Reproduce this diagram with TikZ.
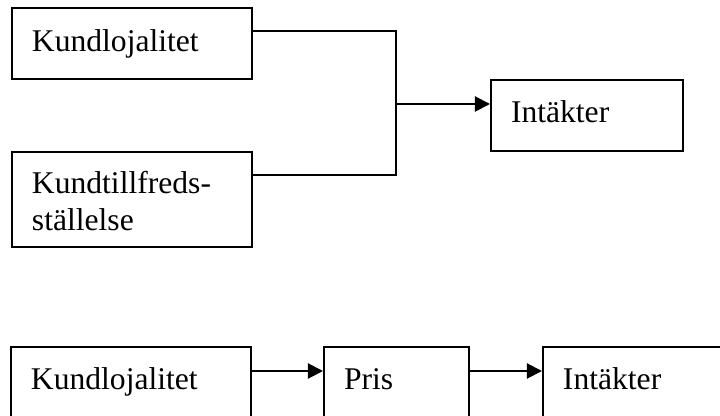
\documentclass[tikz,border=0pt]{standalone}
\usepackage{fontspec}
\setmainfont{Liberation Serif}
\usetikzlibrary{arrows.meta, positioning}

\tikzset{
  box/.style={draw, line width=1pt, align=left, inner xsep=10pt, inner ysep=0pt,
    minimum height=35.5pt, execute at begin node=\strut,
    font=\fontsize{15.8}{18.3}\selectfont},
  link/.style={line width=1pt},
  arr/.style={link, -{Triangle[length=7.5pt, width=7.5pt]}},
}

\begin{document}
\begin{tikzpicture}[x=0.5pt, y=-0.5pt, node distance=35.5pt]
  \useasboundingbox (0,0) rectangle (720,416);
  \clip (0,0) rectangle (720,416);

  % upper diagram
  \node[box, text width=100pt] (lojal) at (132,44) {Kundlojalitet};
  \node[box, text width=100pt, minimum height=47.5pt] (tillfr) at (132,199.5) {Kundtillfreds-\\ställelse};
  \node[box, text width=76pt] (intakt) at (587,115.5) {Intäkter};
  \coordinate (join) at (396,104);

  \draw[link] ([yshift=-12pt]lojal.north east) -| (join);
  \draw[link] ([yshift=-12pt]tillfr.north east) -| (join);
  \draw[arr] (join) -- (join -| intakt.west);

  % lower diagram
  \node[box, text width=100pt] (lojal2) at (131,382.5) {Kundlojalitet};
  \node[box, text width=52.5pt] (pris) [right=of lojal2] {Pris};
  \node[box, text width=76pt] (intakt2) [right=36pt of pris] {Intäkter};

  \draw[arr] ([yshift=-12.5pt]lojal2.north east) -- ([yshift=-12.5pt]pris.north west);
  \draw[arr] ([yshift=-12.5pt]pris.north east) -- ([yshift=-12.5pt]intakt2.north west);
\end{tikzpicture}
\end{document}
